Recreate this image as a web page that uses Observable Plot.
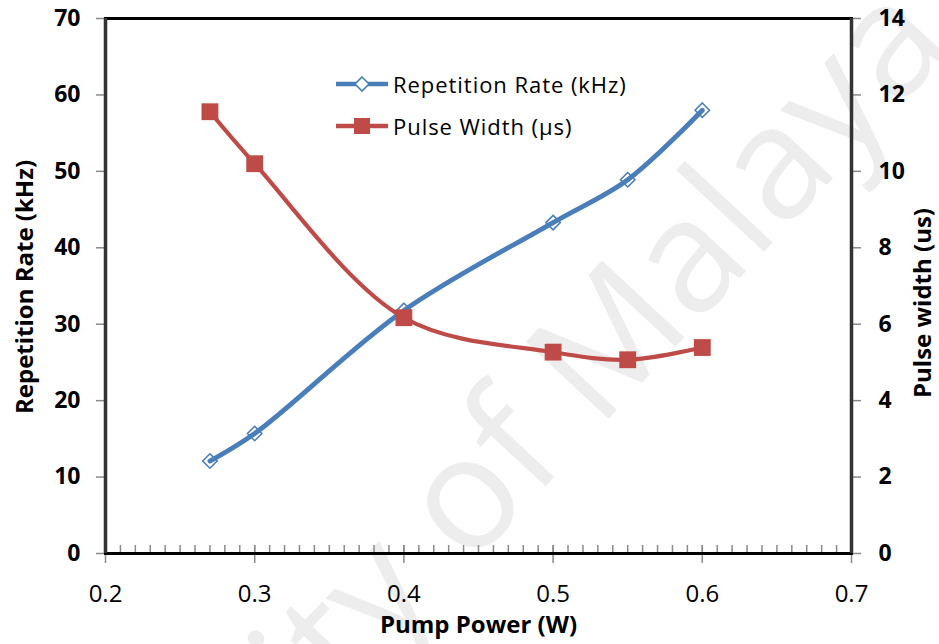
<!DOCTYPE html>
<html>
<head>
<meta charset="utf-8">
<script src="https://cdn.jsdelivr.net/npm/d3@7"></script>
<script src="https://cdn.jsdelivr.net/npm/@observablehq/plot@0.6"></script>
<style>
  body { margin: 0; background: #fff; }
  #wrap { position: relative; width: 939px; height: 644px; overflow: hidden; font-family: "Open Sans", Lato, sans-serif; }
  #watermark, #chart { position: absolute; left: 0; top: 0; }
  #legend { position: absolute; left: 335px; top: 63px; }
  .row { display: flex; align-items: center; height: 42px; font-size: 22px; letter-spacing: 0.95px; color: #000; }
  .row svg { margin-right: 4px; }
</style>
</head>
<body>
<div id="wrap">
  <svg id="watermark" width="939" height="644">
    <text id="wm" font-family="'Open Sans', sans-serif" font-size="158" fill="#ededed">University of Malaya</text>
  </svg>
  <div id="chart"></div>
  <div id="legend"></div>
</div>
<script>
// Q-switched laser output versus pump power
const pumpPower  = [0.27, 0.30, 0.40, 0.50, 0.55, 0.60];   // W
const repRate    = [12.1, 15.7, 31.8, 43.3, 48.9, 58.0];   // kHz
const pulseWidth = [11.56, 10.2, 6.17, 5.27, 5.07, 5.39];  // µs

const xDomain    = [0.2, 0.7];
const xMajor     = [0.2, 0.3, 0.4, 0.5, 0.6, 0.7];
const xMinor     = d3.range(0, 51).map(i => 0.2 + i * 0.01);
const rateTicks  = [0, 10, 20, 30, 40, 50, 60, 70];
const widthTicks = [0, 2, 4, 6, 8, 10, 12, 14];

const seriesNames = ["Repetition Rate (kHz)", "Pulse Width (\u00b5s)"];
const axisTitles  = { x: "Pump Power (W)", left: "Repetition Rate (kHz)", right: "Pulse width (us)" };

const BLUE = "#4a7ebb", RED = "#be4b48";
const FONT = "'Open Sans', Lato, sans-serif";
// the pulse-width axis (0–14) shares the frame with the rate axis (0–70)
const K = rateTicks[rateTicks.length - 1] / widthTicks[widthTicks.length - 1];

const rows = pumpPower.map((p, i) => ({ power: p, rate: repRate[i], width: pulseWidth[i] }));

const title = (spacing) => ({ text: d => d, fontSize: 24, fontWeight: "bold", textAnchor: "middle",
                              style: `letter-spacing:${spacing}px` });

const chart = Plot.plot({
  width: 939,
  height: 644,
  marginLeft: 105,
  marginRight: 88,
  marginTop: 18,
  marginBottom: 91,
  style: { background: "transparent", fontFamily: FONT, color: "#000", overflow: "visible" },
  x: { domain: xDomain },
  y: { domain: [rateTicks[0], rateTicks[rateTicks.length - 1]] },
  marks: [
    // minor ticks inside the bottom edge, major ticks crossing it
    Plot.tickX(xMinor, { x: d => d, stroke: "#8a8a8a", strokeWidth: 1.5, insetTop: 527 }),
    Plot.tickX(xMajor, { x: d => d, stroke: "#8a8a8a", strokeWidth: 1.5, insetTop: 527, insetBottom: -10 }),
    Plot.axisX({ ticks: xMajor, tickSize: 0, tickPadding: 31, fontSize: 24, tickFormat: d => d.toFixed(1), label: null }),
    Plot.axisY({ anchor: "left", ticks: rateTicks, tickSize: 9, tickPadding: 16, stroke: "#8a8a8a", strokeWidth: 1.5,
                 fill: "#000", fontSize: 23, fontWeight: "bold", label: null }),
    Plot.axisY({ anchor: "right", ticks: widthTicks.map(v => v * K), tickFormat: d => d / K, tickSize: 9, tickPadding: 18,
                 stroke: "#8a8a8a", strokeWidth: 1.5, fill: "#000", fontSize: 23, fontWeight: "bold", label: null }),
    Plot.frame({ stroke: "#000", strokeWidth: 3 }),
    Plot.ruleX(xDomain, { stroke: "#333", strokeWidth: 3.5 }),

    Plot.line(rows, { x: "power", y: "rate", stroke: BLUE, strokeWidth: 4.8, curve: "catmull-rom" }),
    Plot.dot(rows, { x: "power", y: "rate", symbol: "diamond2", r: 6.5, stroke: BLUE, strokeWidth: 1.6, fill: "none" }),
    Plot.line(rows, { x: "power", y: d => d.width * K, stroke: RED, strokeWidth: 4.2, curve: "catmull-rom" }),
    Plot.dot(rows, { x: "power", y: d => d.width * K, symbol: "square", r: 9.5, fill: RED, stroke: "none" }),

    Plot.text([axisTitles.left], { frameAnchor: "left", dx: -80, dy: 1, rotate: -90, ...title(2.4) }),
    Plot.text([axisTitles.right], { frameAnchor: "right", dx: 72, dy: 17, rotate: -90, ...title(0.4) }),
    Plot.text([axisTitles.x], { frameAnchor: "bottom", dy: 79, ...title(2.3) })
  ]
});
document.getElementById("chart").appendChild(chart);

// legend: line swatch with marker, then series name
const legend = d3.select("#legend");
const swatches = [
  { name: seriesNames[0], color: BLUE, marker: "diamond" },
  { name: seriesNames[1], color: RED, marker: "square" }
];
for (const s of swatches) {
  const row = legend.append("div").attr("class", "row");
  const svg = row.append("svg").attr("width", 54).attr("height", 20);
  svg.append("line").attr("x1", 1).attr("x2", 53).attr("y1", 10).attr("y2", 10)
     .attr("stroke", s.color).attr("stroke-width", 4.5);
  if (s.marker === "diamond") {
    svg.append("path").attr("d", "M27,3L34,10L27,17L20,10Z").attr("fill", "#fff")
       .attr("stroke", s.color).attr("stroke-width", 1.6);
  } else {
    svg.append("rect").attr("x", 19).attr("y", 2).attr("width", 16).attr("height", 16).attr("fill", s.color);
  }
  row.append("span").text(s.name);
}

// diagonal watermark, placed so that "Malaya" begins just below the 0.5 W mark
const wm = document.getElementById("wm");
const mStart = wm.getStartPositionOfChar(wm.textContent.indexOf("Malaya")).x;
wm.setAttribute("x", -mStart);
wm.setAttribute("transform", "translate(598,430) rotate(-47)");
</script>
</body>
</html>
